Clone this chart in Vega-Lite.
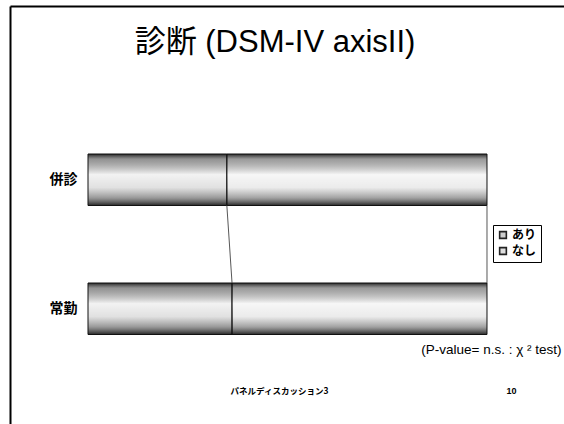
{
  "$schema": "https://vega.github.io/schema/vega-lite/v6.json",
  "width": 554,
  "height": 418,
  "autosize": {"type": "none"},
  "padding": {"left": 10, "top": 6, "right": 0, "bottom": 0},
  "background": "#ffffff",
  "config": {"view": {"stroke": null}},
  "title": {
    "text": "診断 (DSM-IV axisII)",
    "anchor": "middle",
    "frame": "group",
    "dx": -12,
    "offset": -77,
    "baseline": "alphabetic",
    "fontSize": 31,
    "font": "Liberation Sans, Noto Sans CJK JP",
    "fontWeight": "normal",
    "color": "#000000"
  },
  "data": {
    "values": [
      {"category": "併診", "status": "あり", "value": 34.8},
      {"category": "併診", "status": "なし", "value": 65.2},
      {"category": "常勤", "status": "あり", "value": 36.1},
      {"category": "常勤", "status": "なし", "value": 63.9}
    ]
  },
  "resolve": {
    "scale": {"x": "independent", "y": "independent"},
    "axis": {"x": "independent", "y": "independent"}
  },
  "layer": [
    {
      "mark": {"type": "bar", "strokeWidth": 0},
      "encoding": {
        "y": {
          "field": "category",
          "type": "nominal",
          "scale": {"domain": ["併診", "常勤"], "paddingInner": 0.6008, "paddingOuter": 0.9206, "align": 0.6232, "round": false},
          "axis": {
            "orient": "left",
            "offset": -78,
            "domain": false,
            "ticks": false,
            "grid": false,
            "labelPadding": 11,
            "labelFontSize": 14,
            "labelFontWeight": "bold",
            "labelFont": "Noto Sans CJK JP",
            "labelColor": "#000000",
            "title": "パネルディスカッション3",
            "titleAngle": 0,
            "titleX": 191,
            "titleY": 387,
            "titleAlign": "center",
            "titleBaseline": "alphabetic",
            "titleFontSize": 8.5,
            "titleFont": "Noto Sans CJK JP",
            "titleFontWeight": "bold",
            "titleColor": "#000000"
          }
        },
        "x": {
          "field": "value",
          "type": "quantitative",
          "stack": "normalize",
          "scale": {"domain": [-0.1955, 1.193], "nice": false, "zero": false},
          "axis": {
            "orient": "bottom",
            "domain": false,
            "ticks": false,
            "labels": false,
            "grid": false,
            "title": "(P-value= n.s.  :  χ ² test)",
            "titleX": 551,
            "titleY": -71,
            "titleAlign": "right",
            "titleBaseline": "alphabetic",
            "titleFontSize": 13.5,
            "titleFont": "Liberation Sans",
            "titleFontWeight": "normal",
            "titleColor": "#000000"
          }
        },
        "color": {
          "field": "status",
          "type": "nominal",
          "scale": {"domain": ["あり", "なし"], "range": ["#cdcdcd", "#dedede"]},
          "legend": {
            "orient": "none",
            "legendX": 483,
            "legendY": 219,
            "title": null,
            "strokeColor": "#000000",
            "padding": 4,
            "symbolType": "square",
            "symbolSize": 45,
            "symbolStrokeColor": "#222222",
            "symbolStrokeWidth": 1.6,
            "labelFontSize": 12,
            "labelFontWeight": "bold",
            "labelFont": "Noto Sans CJK JP",
            "labelColor": "#000000",
            "labelOffset": 3,
            "rowPadding": 2
          }
        },
        "order": {"field": "status", "sort": "ascending"}
      }
    },
    {
      "mark": {
        "type": "bar",
        "stroke": "#111111",
        "strokeWidth": 1,
        "fill": {
          "gradient": "linear",
          "x1": 0, "y1": 0, "x2": 0, "y2": 1,
          "stops": [
            {"offset": 0, "color": "rgba(20,20,20,0.9)"},
            {"offset": 0.1, "color": "rgba(90,90,90,0.5)"},
            {"offset": 0.4, "color": "rgba(255,255,255,0.75)"},
            {"offset": 0.65, "color": "rgba(255,255,255,0.4)"},
            {"offset": 0.85, "color": "rgba(90,90,90,0.45)"},
            {"offset": 1, "color": "rgba(20,20,20,0.9)"}
          ]
        }
      },
      "encoding": {
        "y": {
          "field": "category",
          "type": "nominal",
          "scale": {"domain": ["併診", "常勤"], "paddingInner": 0.6008, "paddingOuter": 0.9206, "align": 0.6232, "round": false},
          "axis": null
        },
        "x": {
          "field": "value",
          "type": "quantitative",
          "stack": "normalize",
          "scale": {"domain": [-0.1955, 1.193], "nice": false, "zero": false},
          "axis": null
        },
        "order": {"field": "status", "sort": "ascending"}
      }
    },
    {
      "transform": [
        {"stack": "value", "groupby": ["category"], "sort": [{"field": "status", "order": "ascending"}], "offset": "normalize", "as": ["v0", "v1"]},
        {"pivot": "category", "value": "v1", "groupby": ["status"]}
      ],
      "mark": {"type": "rule", "stroke": "#444444", "strokeWidth": 0.9},
      "encoding": {
        "x": {
          "field": "併診",
          "type": "quantitative",
          "scale": {"domain": [-0.1955, 1.193], "nice": false, "zero": false},
          "axis": {
            "orient": "top",
            "domain": true,
            "domainColor": "#000000",
            "domainWidth": 2,
            "ticks": false,
            "labels": false,
            "grid": false,
            "title": "10",
            "titleX": 501,
            "titleY": 387,
            "titleAlign": "center",
            "titleBaseline": "alphabetic",
            "titleFontSize": 9,
            "titleFont": "Liberation Sans",
            "titleFontWeight": "bold",
            "titleColor": "#000000"
          }
        },
        "x2": {"field": "常勤"},
        "y": {
          "datum": "併診",
          "type": "nominal",
          "bandPosition": 1,
          "scale": {"domain": ["併診", "常勤"], "paddingInner": 0.6008, "paddingOuter": 0.9206, "align": 0.6232, "round": false},
          "axis": {
            "orient": "left",
            "domain": true,
            "domainColor": "#000000",
            "domainWidth": 2,
            "ticks": false,
            "labels": false,
            "grid": false,
            "title": null
          }
        },
        "y2": {"datum": "常勤", "bandPosition": 0}
      }
    }
  ]
}
